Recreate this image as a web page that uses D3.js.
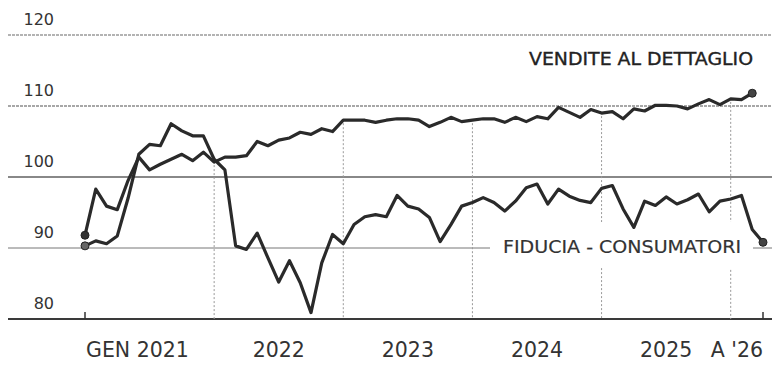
<!DOCTYPE html>
<html><head><meta charset="utf-8">
<script src="https://cdn.jsdelivr.net/npm/d3@7"></script>
<style>html,body{margin:0;padding:0;background:#fff;}svg{display:block;}</style>
</head><body>
<svg id="chart" width="772" height="365"></svg>
<script>
// Monthly data, Jan 2021 onwards
const startYear = 2021;
const vendite = [
  91.8, 98.3, 95.9, 95.4, 99.5, 102.8, 101.0, 101.8, 102.5, 103.2, 102.3, 103.5,
  102.1, 102.8, 102.8, 103.0, 105.0, 104.4, 105.2, 105.5, 106.3, 106.0, 106.8, 106.4,
  108.0, 108.0, 108.0, 107.7, 108.0, 108.2, 108.2, 108.0, 107.1, 107.7, 108.4, 107.8,
  108.0, 108.2, 108.2, 107.7, 108.4, 107.8, 108.5, 108.2, 109.8, 109.1, 108.4, 109.5,
  109.0, 109.2, 108.2, 109.6, 109.3, 110.1, 110.1, 110.0, 109.6, 110.3, 110.9, 110.2,
  111.0, 110.9, 111.8
];
const fiducia = [
  90.3, 91.0, 90.6, 91.7, 97.0, 103.2, 104.6, 104.4, 107.5, 106.5, 105.8, 105.8,
  102.5, 101.0, 90.3, 89.8, 92.1, 88.6, 85.2, 88.2, 85.1, 80.9, 87.9, 91.9,
  90.6, 93.3, 94.4, 94.7, 94.4, 97.4, 95.9, 95.5, 94.3, 90.9, 93.3, 95.9,
  96.4, 97.1, 96.4, 95.2, 96.6, 98.5, 99.0, 96.2, 98.3, 97.3, 96.7, 96.4,
  98.4, 98.8, 95.5, 92.9, 96.6, 96.0, 97.2, 96.2, 96.8, 97.6, 95.1, 96.6,
  96.9, 97.4, 92.6, 90.8
];
const yTicks = [80, 90, 100, 110, 120];
const yearLabels = ["GEN 2021", "2022", "2023", "2024", "2025"];
const endLabel = "A '26";
const seriesLabels = ["VENDITE AL DETTAGLIO", "FIDUCIA - CONSUMATORI"];

const W = 772, H = 365;
const svg = d3.select("#chart");
const lastIdx = fiducia.length - 1;
const x = d3.scaleLinear().domain([0, lastIdx]).range([85, 763]);
const y = d3.scaleLinear().domain([80, 120]).range([319, 35]);
const FONT = "'DejaVu Sans', sans-serif";

// horizontal gridlines
const gridStyle = {
  120: {c: "#9a9a9a", w: 1.4, d: "3,1"},
  110: {c: "#8a8a8a", w: 1.4, d: "3,1"},
  100: {c: "#888", w: 2, d: null},
  90:  {c: "#777", w: 1, d: null},
  80:  {c: "#3a3a3a", w: 2, d: null}
};
yTicks.forEach(v => {
  const s = gridStyle[v];
  svg.append("line").attr("x1", 8).attr("x2", W).attr("y1", y(v)).attr("y2", y(v))
    .attr("stroke", s.c).attr("stroke-width", s.w).attr("stroke-dasharray", s.d);
  svg.append("text").attr("x", 54).attr("y", y(v) - 10.5).attr("text-anchor", "end")
    .attr("font-family", FONT).attr("font-size", 16).attr("fill", "#333").text(v);
});

// vertical year separators from retail line down to baseline
for (let k = 1; k <= 5; k++) {
  const i = k * 12;
  svg.append("line").attr("x1", x(i)).attr("x2", x(i))
    .attr("y1", y(vendite[i]) + 3).attr("y2", y(80))
    .attr("stroke", "#999").attr("stroke-width", 1).attr("stroke-dasharray", "2,2");
}

// ticks on baseline
[0, lastIdx].forEach(i => {
  svg.append("line").attr("x1", x(i)).attr("x2", x(i)).attr("y1", y(80) - 7).attr("y2", y(80))
    .attr("stroke", "#333").attr("stroke-width", 1.5);
});

// label background box for fiducia label
svg.append("rect").attr("x", 490).attr("y", 222).attr("width", 263).attr("height", 46).attr("fill", "#fff");

// series labels
svg.append("text").attr("x", 529).attr("y", 65).attr("font-family", FONT).attr("font-size", 17)
  .attr("fill", "#222").attr("stroke", "#222").attr("stroke-width", 0.35)
  .attr("textLength", 224).attr("lengthAdjust", "spacingAndGlyphs").text(seriesLabels[0]);
svg.append("text").attr("x", 503).attr("y", 253).attr("font-family", FONT).attr("font-size", 18.5)
  .attr("fill", "#333").attr("stroke", "#333").attr("stroke-width", 0.2)
  .attr("textLength", 238).attr("lengthAdjust", "spacingAndGlyphs").text(seriesLabels[1]);

// x labels
yearLabels.forEach((t, k) => {
  const el = svg.append("text").attr("y", 357).attr("font-family", FONT).attr("font-size", 20.5)
    .attr("fill", "#333").text(t);
  if (k === 0) el.attr("x", x(0) + 1).attr("text-anchor", "start");
  else el.attr("x", x(k * 12 + 6)).attr("text-anchor", "middle");
});
svg.append("text").attr("x", x(lastIdx)).attr("y", 357).attr("text-anchor", "end")
  .attr("font-family", FONT).attr("font-size", 20.5).attr("fill", "#333").text(endLabel);

// lines
const line = d3.line().x((d, i) => x(i)).y(d => y(d)).curve(d3.curveLinear);
[fiducia, vendite].forEach(arr => {
  svg.append("path").datum(arr).attr("d", line).attr("fill", "none")
    .attr("stroke", "#2a2a2a").attr("stroke-width", 3.2).attr("stroke-linejoin", "round");
});
// end dots
[[vendite, "#333"], [fiducia, "#666"]].forEach(([arr, c]) => {
  svg.append("circle").attr("cx", x(0)).attr("cy", y(arr[0])).attr("r", 4)
    .attr("fill", c).attr("stroke", "#222").attr("stroke-width", 1);
  const n = arr.length - 1;
  svg.append("circle").attr("cx", x(n)).attr("cy", y(arr[n])).attr("r", 4)
    .attr("fill", "#444").attr("stroke", "#222").attr("stroke-width", 1);
});
</script>
</body></html>
